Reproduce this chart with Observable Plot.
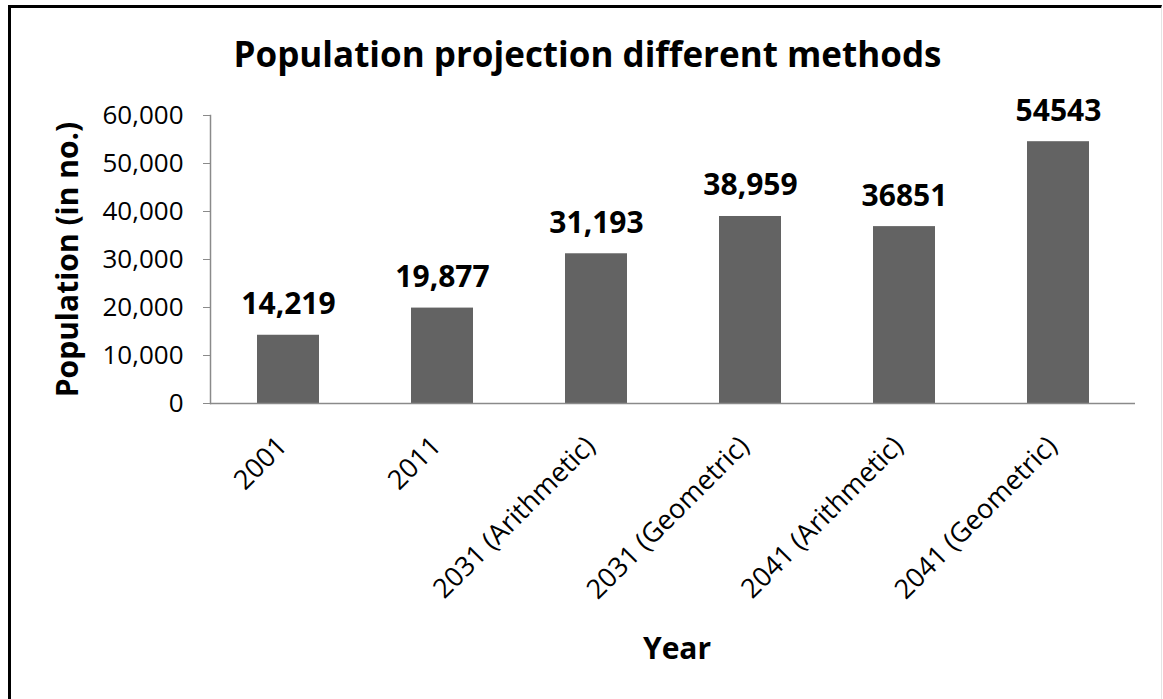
<!DOCTYPE html>
<html>
<head>
<meta charset="utf-8">
<script src="https://cdn.jsdelivr.net/npm/d3@7"></script>
<script src="https://cdn.jsdelivr.net/npm/@observablehq/plot@0.6"></script>
<style>
  html, body { margin: 0; padding: 0; background: #fff; }
  #page { position: relative; width: 1163px; height: 699px; overflow: hidden; font-family: "Open Sans", Lato, sans-serif; }
  #border { position: absolute; left: 8px; top: 5px; right: 1px; bottom: -4px; border-left: 3px solid #000; border-top: 3px solid #000; border-right: 1px solid #e4e4e4; }
  #title { position: absolute; top: 30px; left: 0; width: 1175px; text-align: center; font-weight: bold; font-size: 35px; color: #000; }
  #chart { position: absolute; left: 0; top: 85px; }
</style>
</head>
<body>
<div id="page">
  <div id="border"></div>
  <div id="title">Population projection different methods</div>
  <div id="chart"></div>
</div>
<script>
// Population by year and projection method
const categories = ["2001", "2011", "2031 (Arithmetic)", "2031 (Geometric)", "2041 (Arithmetic)", "2041 (Geometric)"];
const population = [14219, 19877, 31193, 38959, 36851, 54543];
const valueLabels = ["14,219", "19,877", "31,193", "38,959", "36851", "54543"];
const yTicks = [0, 10000, 20000, 30000, 40000, 50000, 60000];

const rows = categories.map((c, i) => ({category: c, value: population[i], label: valueLabels[i]}));

const chart = Plot.plot({
  width: 1163,
  height: 605,
  marginLeft: 210,
  marginRight: 28,
  marginTop: 30,
  marginBottom: 287,
  style: {fontFamily: "'Open Sans', Lato, sans-serif", color: "#000", background: "transparent", overflow: "visible"},
  x: {domain: categories, paddingInner: 0.6, paddingOuter: 0.3, axis: null},
  y: {domain: [0, 60000], axis: null},
  marks: [
    Plot.axisY({
      ticks: yTicks, tickFormat: d3.format(","), tickSize: 7, tickPadding: 20,
      stroke: "#8a8a8a", fontSize: 26, label: null
    }),
    Plot.frame({anchor: "left", stroke: "#8a8a8a", strokeWidth: 1.5}),
    Plot.barY(rows, {x: "category", y: "value", fill: "#636363"}),
    Plot.ruleY([0], {stroke: "#8a8a8a", strokeWidth: 1.5}),
    Plot.text(rows, {
      x: "category", y: "value", text: "label",
      lineAnchor: "bottom", dy: -21, fontSize: 30, fontWeight: "bold", fill: "#000"
    }),
    Plot.axisX({
      tickSize: 0, tickPadding: 38, dx: -6, tickRotate: -45, fontSize: 27, label: null
    }),
    Plot.text(["Population (in no.)"], {
      frameAnchor: "left", dx: -142, rotate: -90, textAnchor: "middle", lineAnchor: "middle",
      fontSize: 30, fontWeight: "bold", fill: "#000"
    }),
    Plot.text(["Year"], {
      frameAnchor: "bottom", dy: 246, dx: 4, textAnchor: "middle", lineAnchor: "middle",
      fontSize: 30, fontWeight: "bold", fill: "#000"
    })
  ]
});

document.getElementById("chart").appendChild(chart);
</script>
</body>
</html>
